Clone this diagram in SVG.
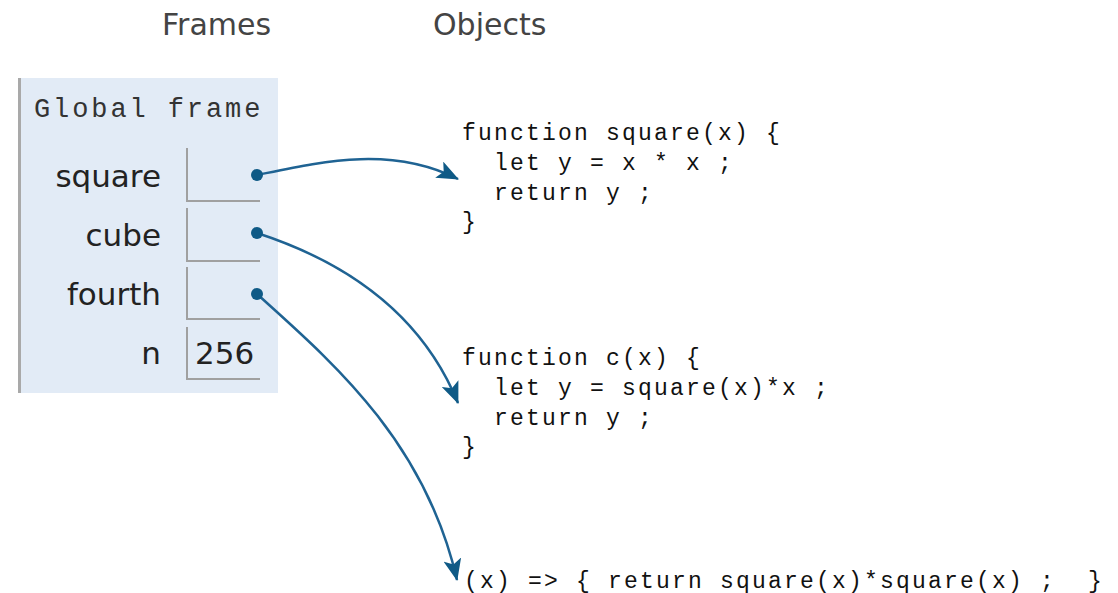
<svg xmlns="http://www.w3.org/2000/svg" width="1118" height="593" viewBox="0 0 1118 593">
<style>
.hdr{font-family:"DejaVu Sans",Verdana,sans-serif;font-size:30px;fill:#444}
.lbl{font-family:"DejaVu Sans",Verdana,sans-serif;font-size:31px;fill:#222;text-anchor:end}
.val{font-family:"DejaVu Sans",Verdana,sans-serif;font-size:31px;fill:#222}
.mono{font-family:"Liberation Mono","Courier New",monospace;font-size:23px;letter-spacing:2.2px;fill:#111;white-space:pre}
.cell{fill:none;stroke:#a0a0a0;stroke-width:2}
.conn{fill:none;stroke:#1f6393;stroke-width:2.5}
.dot{fill:#0f5a86}
</style>
<defs>
<marker id="ah" viewBox="0 0 22 18" refX="21" refY="9" markerWidth="22" markerHeight="18" markerUnits="userSpaceOnUse" orient="auto">
<path d="M0,0 L22,9 L0,18 L5,9 Z" fill="#0f5a86"/>
</marker>
</defs>
<rect width="1118" height="593" fill="#fff"/>
<text class="hdr" x="162" y="35">Frames</text>
<text class="hdr" x="433" y="35">Objects</text>
<g id="global-frame">
<rect x="18" y="78" width="260" height="315" fill="#e2ebf6"/>
<line x1="19.5" y1="78" x2="19.5" y2="393" stroke="#a9a9a9" stroke-width="3"/>
<text class="mono" x="34" y="117" style="font-size:27px;letter-spacing:2.9px;fill:#333">Global frame</text>
<text class="lbl" x="161" y="187">square</text>
<text class="lbl" x="161" y="246">cube</text>
<text class="lbl" x="161" y="305">fourth</text>
<text class="lbl" x="161" y="364">n</text>
<path class="cell" d="M187,148 V201 H260"/>
<path class="cell" d="M187,208 V261 H260"/>
<path class="cell" d="M187,267 V319 H260"/>
<path class="cell" d="M187,327 V379 H260"/>
<text class="val" x="195" y="364">256</text>
</g>
<g id="obj-square">
<text class="mono" x="462" y="140">function square(x) {</text>
<text class="mono" x="462" y="170">  let y = x * x ;</text>
<text class="mono" x="462" y="200">  return y ;</text>
<text class="mono" x="462" y="229">}</text>
</g>
<g id="obj-c">
<text class="mono" x="462" y="365">function c(x) {</text>
<text class="mono" x="462" y="395">  let y = square(x)*x ;</text>
<text class="mono" x="462" y="425">  return y ;</text>
<text class="mono" x="462" y="454">}</text>
</g>
<g id="obj-fourth">
<text class="mono" x="464" y="588">(x) =&gt; { return square(x)*square(x) ;  }</text>
</g>
<g id="connectors">
<path class="conn" d="M257,175 C320,162 390,145 458,179" marker-end="url(#ah)"/>
<path class="conn" d="M257,233 C340,260 420,310 458,403" marker-end="url(#ah)"/>
<path class="conn" d="M257,294 C330,360 425,440 457,580" marker-end="url(#ah)"/>
<circle class="dot" cx="257" cy="175" r="6"/>
<circle class="dot" cx="257" cy="233" r="6"/>
<circle class="dot" cx="257" cy="294" r="6"/>
</g>
</svg>
